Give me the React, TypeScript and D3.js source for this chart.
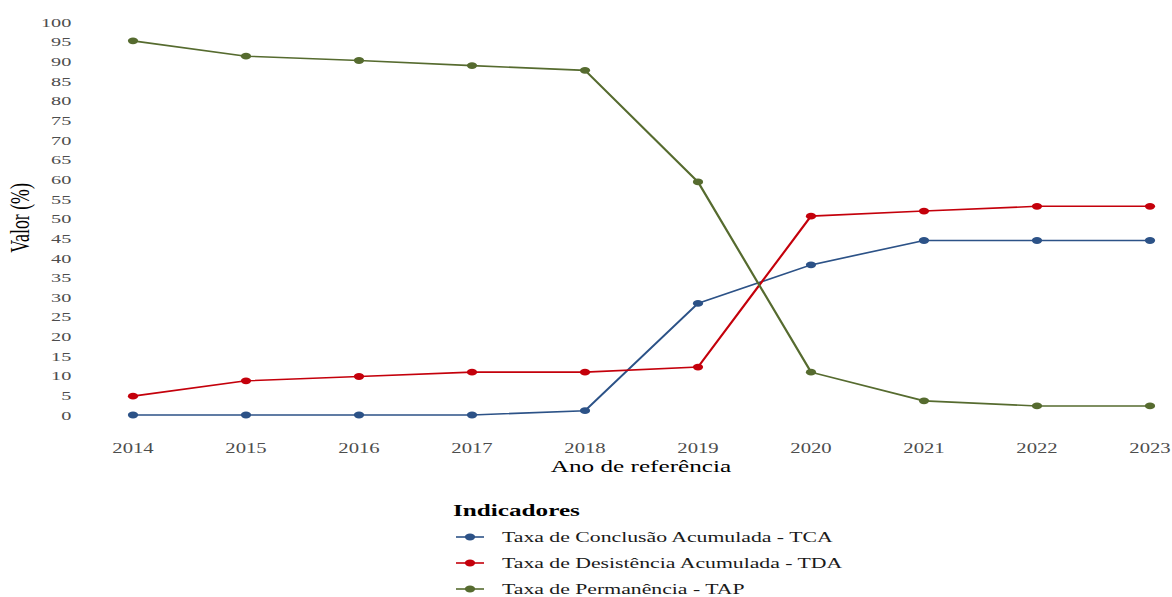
import * as d3 from 'd3'

const years = [2014, 2015, 2016, 2017, 2018, 2019, 2020, 2021, 2022, 2023]
const tca = [0, 0, 0, 0, 1.1, 28.4, 38.2, 44.4, 44.4, 44.4]
const tda = [4.8, 8.7, 9.8, 10.9, 10.9, 12.2, 50.6, 51.9, 53.1, 53.1]
const tap = [95.2, 91.3, 90.2, 88.9, 87.7, 59.3, 10.9, 3.6, 2.3, 2.3]
const yTicks = d3.range(0, 101, 5)

const seriesNames = [
  'Taxa de Conclusão Acumulada - TCA',
  'Taxa de Desistência Acumulada - TDA',
  'Taxa de Permanência - TAP',
]
const seriesColors = ['#2c5287', '#c4000b', '#566b2f']

const W = 1172
const H = 597
// the reference image is stretched horizontally, so draw in narrow units and scale x
const SX = 1.5
const font = '"Liberation Serif", "Times New Roman", serif'

export default function App() {
  const x = d3.scaleLinear().domain([2014, 2023]).range([133 / SX, 1150 / SX])
  const y = d3.scaleLinear().domain([0, 100]).range([415, 22])

  const line = d3.line<[number, number]>()
    .x(d => x(d[0]))
    .y(d => y(d[1]))

  const allSeries = [tca, tda, tap].map(vals => years.map((yr, i) => [yr, vals[i]] as [number, number]))

  return (
    <svg width={W} height={H} style={{ position: 'absolute', left: 0, top: 0, background: '#fff' }}>
      <g transform={`scale(${SX},1)`} fontFamily={font}>
        {/* y ticks */}
        {yTicks.map(t => (
          <text key={t} x={47.5} y={y(t)} dy="0.35em" textAnchor="end" fontSize={13.5} fill="#4d4d4d">{t}</text>
        ))}
        {/* x ticks */}
        {years.map(yr => (
          <text key={yr} x={x(yr)} y={453} textAnchor="middle" fontSize={13.8} fill="#4d4d4d">{yr}</text>
        ))}
        <text x={641 / SX} y={472} textAnchor="middle" fontSize={16.8} fill="#000">Ano de referência</text>
        <text transform={`translate(${29 / SX},218) rotate(-90)`} textAnchor="middle" fontSize={17.8} fill="#000">Valor (%)</text>

        {/* lines */}
        {allSeries.map((data, i) => (
          <g key={i}>
            <path d={line(data) ?? ''} fill="none" stroke={seriesColors[i]} strokeWidth={1.6} />
            {data.map((d, j) => (
              <circle key={j} cx={x(d[0])} cy={y(d[1])} r={3.4} fill={seriesColors[i]} />
            ))}
          </g>
        ))}

        {/* legend */}
        <text x={453 / SX} y={516} fontSize={16.8} fontWeight="bold" fill="#000">Indicadores</text>
        {seriesNames.map((name, i) => {
          const cy = 537 + i * 26
          return (
            <g key={name}>
              <line x1={456 / SX} x2={484 / SX} y1={cy} y2={cy} stroke={seriesColors[i]} strokeWidth={1.6} />
              <circle cx={470 / SX} cy={cy} r={3.4} fill={seriesColors[i]} />
              <text x={502 / SX} y={cy + 5} fontSize={14.5} fill="#1a1a1a">{name}</text>
            </g>
          )
        })}
      </g>
    </svg>
  )
}
